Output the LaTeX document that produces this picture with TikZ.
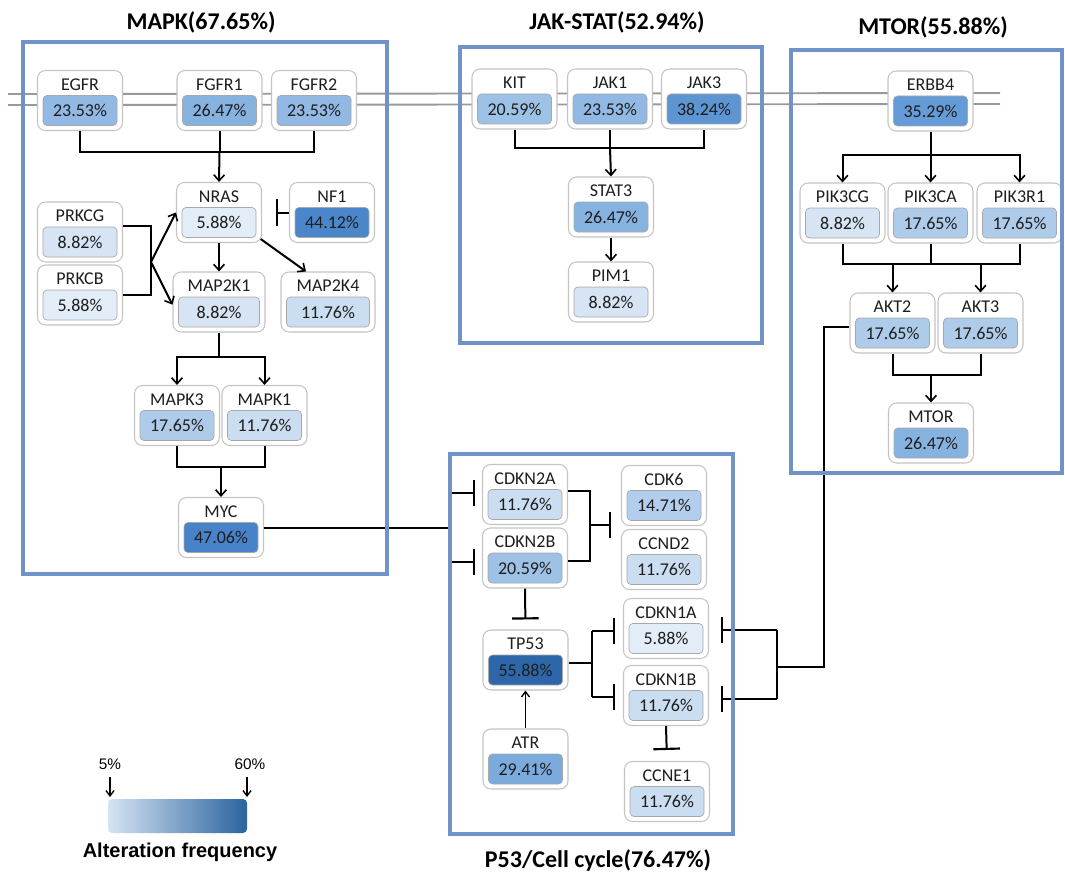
\documentclass[tikz,border=0pt]{standalone}
\usepackage{fontspec}
\setmainfont{Carlito}
\newfontfamily\legfont{Liberation Sans}
\usetikzlibrary{arrows.meta,calc}
\definecolor{panelc}{HTML}{7092C6}
\definecolor{membc}{HTML}{999999}
\definecolor{obord}{HTML}{C4C4C4}
\definecolor{ibord}{HTML}{A8A8A8}
\definecolor{txt}{HTML}{1E1E1E}
\definecolor{c0588}{HTML}{E3EDF8}
\definecolor{c0882}{HTML}{D6E4F3}
\definecolor{c1176}{HTML}{CBDDF1}
\definecolor{c1471}{HTML}{B3CEEC}
\definecolor{c1765}{HTML}{AFCBEA}
\definecolor{c2059}{HTML}{9EC1E6}
\definecolor{c2353}{HTML}{91B9E3}
\definecolor{c2647}{HTML}{86B2E0}
\definecolor{c2941}{HTML}{7BAADD}
\definecolor{c3529}{HTML}{659BD6}
\definecolor{c3824}{HTML}{5D95D3}
\definecolor{c4412}{HTML}{4C86CA}
\definecolor{c4706}{HTML}{4883C9}
\definecolor{c5588}{HTML}{2D67AA}
\definecolor{legL}{HTML}{D5E4F3}
\definecolor{legR}{HTML}{2A639E}
\tikzset{
  genebox/.style={rectangle, rounded corners=6pt, draw=obord, line width=0.8pt, fill=white, minimum height=45pt, inner sep=0pt},
  gval/.style={rectangle, rounded corners=3pt, draw=ibord, line width=0.5pt, minimum height=22.5pt, inner sep=0pt, font=\fontsize{13.5}{15}\selectfont, text=txt},
  glab/.style={inner sep=0pt, font=\fontsize{13.5}{15}\selectfont, text=txt},
  conn/.style={line width=1.5pt, black},
  arr/.style={conn, -{Straight Barb[length=4.5pt,width=8pt,line width=1.2pt]}},
  thinarr/.style={line width=1pt, black, -{Straight Barb[length=4pt,width=6pt,line width=1pt]}},
  inh/.style={conn, -{Bar[width=20pt,line width=1.6pt]}},
  panel/.style={draw=panelc, line width=2.3pt},
  ptitle/.style={font=\fontsize{18}{21}\selectfont\bfseries, text=black},
  memb/.style={draw=membc, line width=1.4pt}
}
\newcommand\gene[6][85]{%
  \node[genebox, minimum width={#1*0.75pt}] (#2) at (#3) {};
  \node[gval, fill=#6, minimum width={(#1-11)*0.75pt}] (#2-v) at ([yshift=-7.5pt]#2.center) {#5\%};
  \node[glab] (#2-l) at ([yshift=12pt]#2.center) {#4};
}
\begin{document}
\begin{tikzpicture}[x=0.75pt,y=-0.75pt]
\useasboundingbox (0,0) rectangle (1065,874);
% membrane
\draw[memb] (8,94) -- (1000,93);
\draw[memb] (8,105) -- (1000,104);
% coordinates
\coordinate (mj1) at (219.5,152);
\coordinate (pk) at (151,262);
\coordinate (m2) at (219,357);
\coordinate (m3) at (221,467);
\coordinate (pj) at (450,527.5);
\coordinate (pja) at (450,493);
\coordinate (pjb) at (450,562);
\coordinate (j1) at (610,148);
\coordinate (t1) at (930.5,155);
\coordinate (t2) at (930.5,264);
\coordinate (t3) at (931,375);
\coordinate (q1) at (824,667);
\coordinate (q2) at (777,667);
\coordinate (q2a) at (777,630);
\coordinate (q2b) at (777,699);
\coordinate (r1) at (590,525);
\coordinate (s1) at (592,663);
\coordinate (s1a) at (592,631);
\coordinate (s1b) at (592,697);
% ---- nodes MAPK
\gene{egfr}{80,100.5}{EGFR}{23.53}{c2353}
\gene{fgfr1}{219.5,100.5}{FGFR1}{26.47}{c2647}
\gene{fgfr2}{314,100.5}{FGFR2}{23.53}{c2353}
\gene{nras}{219,212.5}{NRAS}{5.88}{c0588}
\gene{nf1}{332,212.5}{NF1}{44.12}{c4412}
\gene{prkcg}{80,232}{PRKCG}{8.82}{c0882}
\gene{prkcb}{80,295}{PRKCB}{5.88}{c0588}
\gene[92]{map2k1}{219,302}{MAP2K1}{8.82}{c0882}
\gene[94]{map2k4}{328,302}{MAP2K4}{11.76}{c1176}
\gene{mapk3}{177,415.5}{MAPK3}{17.65}{c1765}
\gene{mapk1}{264.5,415.5}{MAPK1}{11.76}{c1176}
\gene{myc}{221,527.5}{MYC}{47.06}{c4706}
% ---- JAK-STAT
\gene{kit}{514.5,99}{KIT}{20.59}{c2059}
\gene{jak1}{610,99}{JAK1}{23.53}{c2353}
\gene{jak3}{704,99}{JAK3}{38.24}{c3824}
\gene{stat3}{611,207}{STAT3}{26.47}{c2647}
\gene{pim1}{611,292}{PIM1}{8.82}{c0882}
% ---- MTOR
\gene{erbb4}{930.5,101}{ERBB4}{35.29}{c3529}
\gene{pik3cg}{842.5,213}{PIK3CG}{8.82}{c0882}
\gene{pik3ca}{930.5,213}{PIK3CA}{17.65}{c1765}
\gene{pik3r1}{1019.5,213}{PIK3R1}{17.65}{c1765}
\gene{akt2}{892.5,323}{AKT2}{17.65}{c1765}
\gene{akt3}{980.5,323}{AKT3}{17.65}{c1765}
\gene{mtor}{931,433}{MTOR}{26.47}{c2647}
% ---- P53
\gene{cdkn2a}{525,494.5}{CDKN2A}{11.76}{c1176}
\gene{cdkn2b}{525,558}{CDKN2B}{20.59}{c2059}
\gene{cdk6}{664,495.5}{CDK6}{14.71}{c1471}
\gene{ccnd2}{664,559.5}{CCND2}{11.76}{c1176}
\gene{cdkn1a}{666,628.5}{CDKN1A}{5.88}{c0588}
\gene{cdkn1b}{666,695.5}{CDKN1B}{11.76}{c1176}
\gene{tp53}{525.5,660}{TP53}{55.88}{c5588}
\gene{atr}{525.5,759}{ATR}{29.41}{c2941}
\gene{ccne1}{667,791.5}{CCNE1}{11.76}{c1176}
% ---- connectors MAPK
\draw[conn] (egfr.south) |- (mj1) -| (fgfr2.south);
\draw[conn] (fgfr1.south) -- (mj1);
\draw[arr] (mj1) -- (nras.north);
\draw[inh, shorten >=10.5pt] (nf1.west) -- (nras.east);
\draw[conn] ([yshift=4.5pt]prkcg.east) -| (pk) |- (prkcb.east);
\draw[arr] (pk) -- (nras.west);
\draw[arr] (pk) -- ([yshift=-2pt]map2k1.west);
\draw[arr] (nras.south) -- (map2k1.north);
\draw[arr] ([yshift=3pt,xshift=-1pt]nras.south east) -- ([xshift=-16.5pt]map2k4.north);
\draw[conn] (map2k1.south) -- (m2);
\draw[arr] (m2) -| (mapk3.north);
\draw[arr] (m2) -| (mapk1.north);
\draw[conn] (mapk3.south) |- (m3) -| (mapk1.south);
\draw[arr] (m3) -- (myc.north);
\draw[conn] (myc.east) -- (pj);
\draw[conn] (pja) -- (pjb);
\draw[inh, shorten >=5.25pt] (pja) -- (pja -| cdkn2a.west);
\draw[inh, shorten >=5.25pt] (pjb) -- (pjb -| cdkn2b.west);
% JAK-STAT
\draw[conn] (kit.south) |- (j1) -| (jak3.south);
\draw[conn] (jak1.south) -- (j1);
\draw[arr] (j1) -- (stat3.north);
\draw[arr] (stat3.south) -- (pim1.north);
% MTOR
\draw[conn] (erbb4.south) -- (t1);
\draw[arr] (t1) -| (pik3cg.north);
\draw[arr] (t1) -| (pik3r1.north);
\draw[arr] (t1) -- (pik3ca.north);
\draw[conn] (pik3cg.south) |- (t2) -| (pik3r1.south);
\draw[conn] (pik3ca.south) -- (t2);
\draw[arr] (akt2.north |- t2) -- (akt2.north);
\draw[arr] (akt3.north |- t2) -- (akt3.north);
\draw[conn] (akt2.south) |- (t3) -| (akt3.south);
\draw[arr] (t3) -- (mtor.north);
\draw[conn] ([yshift=-3pt]akt2.west) -| (q1) -- (q2);
\draw[conn] (q2a) -- (q2b);
\draw[inh, shorten >=9pt] (q2a) -- (q2a -| cdkn1a.east);
\draw[inh, shorten >=9pt] (q2b) -- (q2b -| cdkn1b.east);
% P53
\draw[conn] ([yshift=3pt]cdkn2a.east) -| (r1) |- ([yshift=-2.25pt]cdkn2b.east);
\draw[inh, shorten >=7.5pt] (r1) -- (r1 -| cdk6.west);
\draw[inh, shorten >=7.5pt] (cdkn2b.south) -- (tp53.north);
\draw[conn] ([yshift=-2.25pt]tp53.east) -- (s1);
\draw[conn] (s1a) -- (s1b);
\draw[inh, shorten >=6pt] (s1a) -- (s1a -| cdkn1a.west);
\draw[inh, shorten >=6pt] (s1b) -- (s1b -| cdkn1b.west);
\draw[thinarr] (atr.north) -- (tp53.south);
\draw[inh, shorten >=8.25pt] (cdkn1b.south) -- (ccne1.north);
% panels
\draw[panel] (23,42) rectangle (387,574);
\draw[panel] (460,47) rectangle (762,343);
\draw[panel] (791,50) rectangle (1062,473);
\draw[panel] (450,454) rectangle (733,834);
% titles
\node[ptitle] (tmapk) at (201,22) {MAPK(67.65\%)};
\node[ptitle] (tjak) at (617,22) {JAK-STAT(52.94\%)};
\node[ptitle] (tmtor) at (933,27) {MTOR(55.88\%)};
\node[ptitle] (tp53t) at (598,860) {P53/Cell cycle(76.47\%)};
% legend
\shade[left color=legL, right color=legR, rounded corners=3pt] (108,799) rectangle (247,833);
\node[font=\legfont\fontsize{11.5}{13}\selectfont] (l5) at (110,764) {5\%};
\node[font=\legfont\fontsize{11.5}{13}\selectfont] (l60) at (250,764) {60\%};
\coordinate (a5) at (110,797);
\coordinate (a60) at (247,797);
\coordinate (a5s) at (110,777);
\coordinate (a60s) at (247,777);
\draw[thinarr] (a5s) -- (a5);
\draw[thinarr] (a60s) -- (a60);
\node[font=\legfont\bfseries\fontsize{15}{17}\selectfont] (lt) at (180,852) {Alteration frequency};
\end{tikzpicture}
\end{document}
